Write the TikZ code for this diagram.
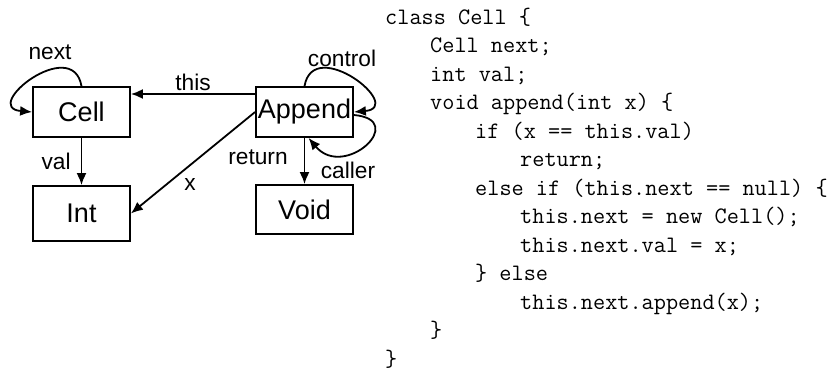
\documentclass[tikz,border=0pt]{standalone}
\usepackage{fontspec}
\setmainfont{Liberation Sans}
\usetikzlibrary{arrows.meta}

\begin{document}
\begin{tikzpicture}[x=1pt, y=1pt,
  box/.style={draw, line width=1.8pt, inner sep=0pt, minimum width=97pt, minimum height=50pt, font=\fontsize{27}{30}\selectfont},
  lbl/.style={inner sep=2pt, font=\fontsize{22.7}{26}\selectfont},
  arr/.style={draw, line width=1.8pt, -{Latex[length=12pt,width=10pt]}},
  code/.style={inner sep=0pt, align=left, font=\ttfamily\addfontfeatures{FakeBold=0.5}\fontsize{23.6}{28.5}\selectfont},
]
\useasboundingbox (0,0) rectangle (840,-375);

\node[box] (cell) at (81.5,-112) {Cell};
\node[box] (append) at (304.5,-112) {Append};
\node[box, minimum height=55pt] (int) at (81.5,-213.5) {Int};
\node[box, minimum height=49pt] (void) at (304.5,-209.5) {Void};

\draw[arr] ([yshift=18pt]append.west) -- node[lbl, above] (lthis) {this} ([yshift=18pt]cell.east);
\draw[arr] (cell.south) -- node[lbl, left=8pt] (lval) {val} (int.north);
\draw[arr] (append.west) -- (int.east);
\draw[arr] (append.south) -- (void.north);
\draw[arr] (cell.north) to[out=100, in=175, looseness=2.4] (cell.west);
\draw[arr] (append.north) to[out=80, in=5, looseness=2.4] (append.east);
\draw[arr] ([yshift=-3pt]append.east) to[out=-5, in=-50, looseness=2.8] ([xshift=4pt]append.south);

\node[lbl] (lnext) at (50,-52) {next};
\node[lbl] (lx) at (190,-185) {x};
\node[lbl] (lcontrol) at (342,-58) {control};
\node[lbl] (lreturn) at (258,-157) {return};
\node[lbl] (lcaller) at (348,-170) {caller};

\node[code, anchor=base west] (src) at (385,-366) {%
class Cell \{\\
\hspace*{45pt}Cell next;\\
\hspace*{45pt}int val;\\
\hspace*{45pt}void append(int x) \{\\
\hspace*{90pt}if (x == this.val)\\
\hspace*{135pt}return;\\
\hspace*{90pt}else if (this.next == null) \{\\
\hspace*{135pt}this.next = new Cell();\\
\hspace*{135pt}this.next.val = x;\\
\hspace*{90pt}\} else\\
\hspace*{135pt}this.next.append(x);\\
\hspace*{45pt}\}\\
\}};
\end{tikzpicture}
\end{document}
